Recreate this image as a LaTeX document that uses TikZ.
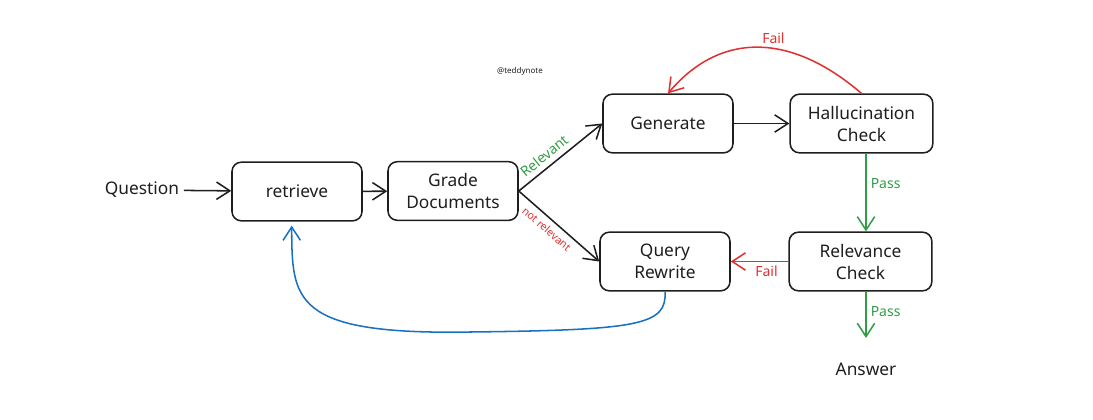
\documentclass[tikz,border=0pt]{standalone}
\usepackage{fontspec}
\setmainfont{Noto Sans}
\usepackage{tikz}
\usetikzlibrary{arrows.meta, positioning, calc}
\definecolor{inkblack}{HTML}{1E1E1E}
\definecolor{passgreen}{HTML}{2F9E44}
\definecolor{failred}{HTML}{E03131}
\definecolor{loopblue}{HTML}{1971C2}

\begin{document}
\begin{tikzpicture}[x=0.75pt, y=-0.75pt,
  box/.style={draw=inkblack, line width=1.15pt, rounded corners=7pt,
    minimum width=97.5pt, minimum height=44pt, align=center, text=inkblack,
    font=\fontsize{13pt}{16.5pt}\selectfont},
  plain/.style={text=inkblack, font=\fontsize{13pt}{16.5pt}\selectfont},
  flow/.style={draw=inkblack, line width=1.15pt,
    -{Straight Barb[length=10pt,width=13pt,line width=1.15pt]}},
  passflow/.style={flow, draw=passgreen},
  failflow/.style={flow, draw=failred},
  loopflow/.style={flow, draw=loopblue},
  tag/.style={font=\fontsize{10.5pt}{11pt}\selectfont, inner sep=3pt}
]
\useasboundingbox (0,0) rectangle (1093,419);

% Input and retrieval
\node[plain] (question) at (142,190) {Question};
\node[box] (retrieve) at (297,191.5) {retrieve};
\node[box] (grade) at (453,191) {Grade\\Documents};

% Upper branch
\node[box] (generate) at (668,123.5) {Generate};
\node[box, minimum width=107pt] (halluc) at (861.5,123.5) {Hallucination\\Check};

% Lower branch
\node[box] (rewrite) at (665,261.5) {Query\\Rewrite};
\node[box, minimum width=107pt] (relev) at (860.5,261.5) {Relevance\\Check};
\node[plain] (answer) at (866,369) {Answer};

\node[text=inkblack, font=\fontsize{6pt}{7pt}\selectfont] (credit) at (520,71) {@teddynote};

\draw[flow] (question) -- (retrieve);
\draw[flow] (retrieve) -- (grade);
\draw[flow] (grade.east) -- node[tag, text=passgreen, sloped, above, pos=0.39, inner sep=4pt] {Relevant} (generate.west);
\draw[flow] (grade.east) -- node[tag, text=failred, sloped, below, pos=0.43, inner sep=4pt,
  font=\fontsize{8pt}{9pt}\selectfont] {not relevant} (rewrite.west);
\draw[flow] (generate) -- (halluc);

% Checks
\draw[failflow] (halluc.north) .. controls (790,32) and (720,32) .. node[tag, text=failred, above, pos=0.42] {Fail} (generate.north);
\draw[passflow] (halluc.south -| answer) -- node[tag, text=passgreen, right, pos=0.38] {Pass} (relev.north -| answer);
\draw[failflow] (relev.west) -- node[tag, text=failred, below, pos=0.38] {Fail} (rewrite.east);
\draw[passflow, shorten >=15pt] (relev.south -| answer) -- node[tag, text=passgreen, right, pos=0.3] {Pass} (answer.north);

% Back to retrieval
\draw[loopflow, shorten >=3pt] (rewrite.south) .. controls (667,325) and (640,330) .. (470,332)
  .. controls (292,335) and (292,300) .. ([xshift=-4pt]retrieve.south);
\end{tikzpicture}
\end{document}
